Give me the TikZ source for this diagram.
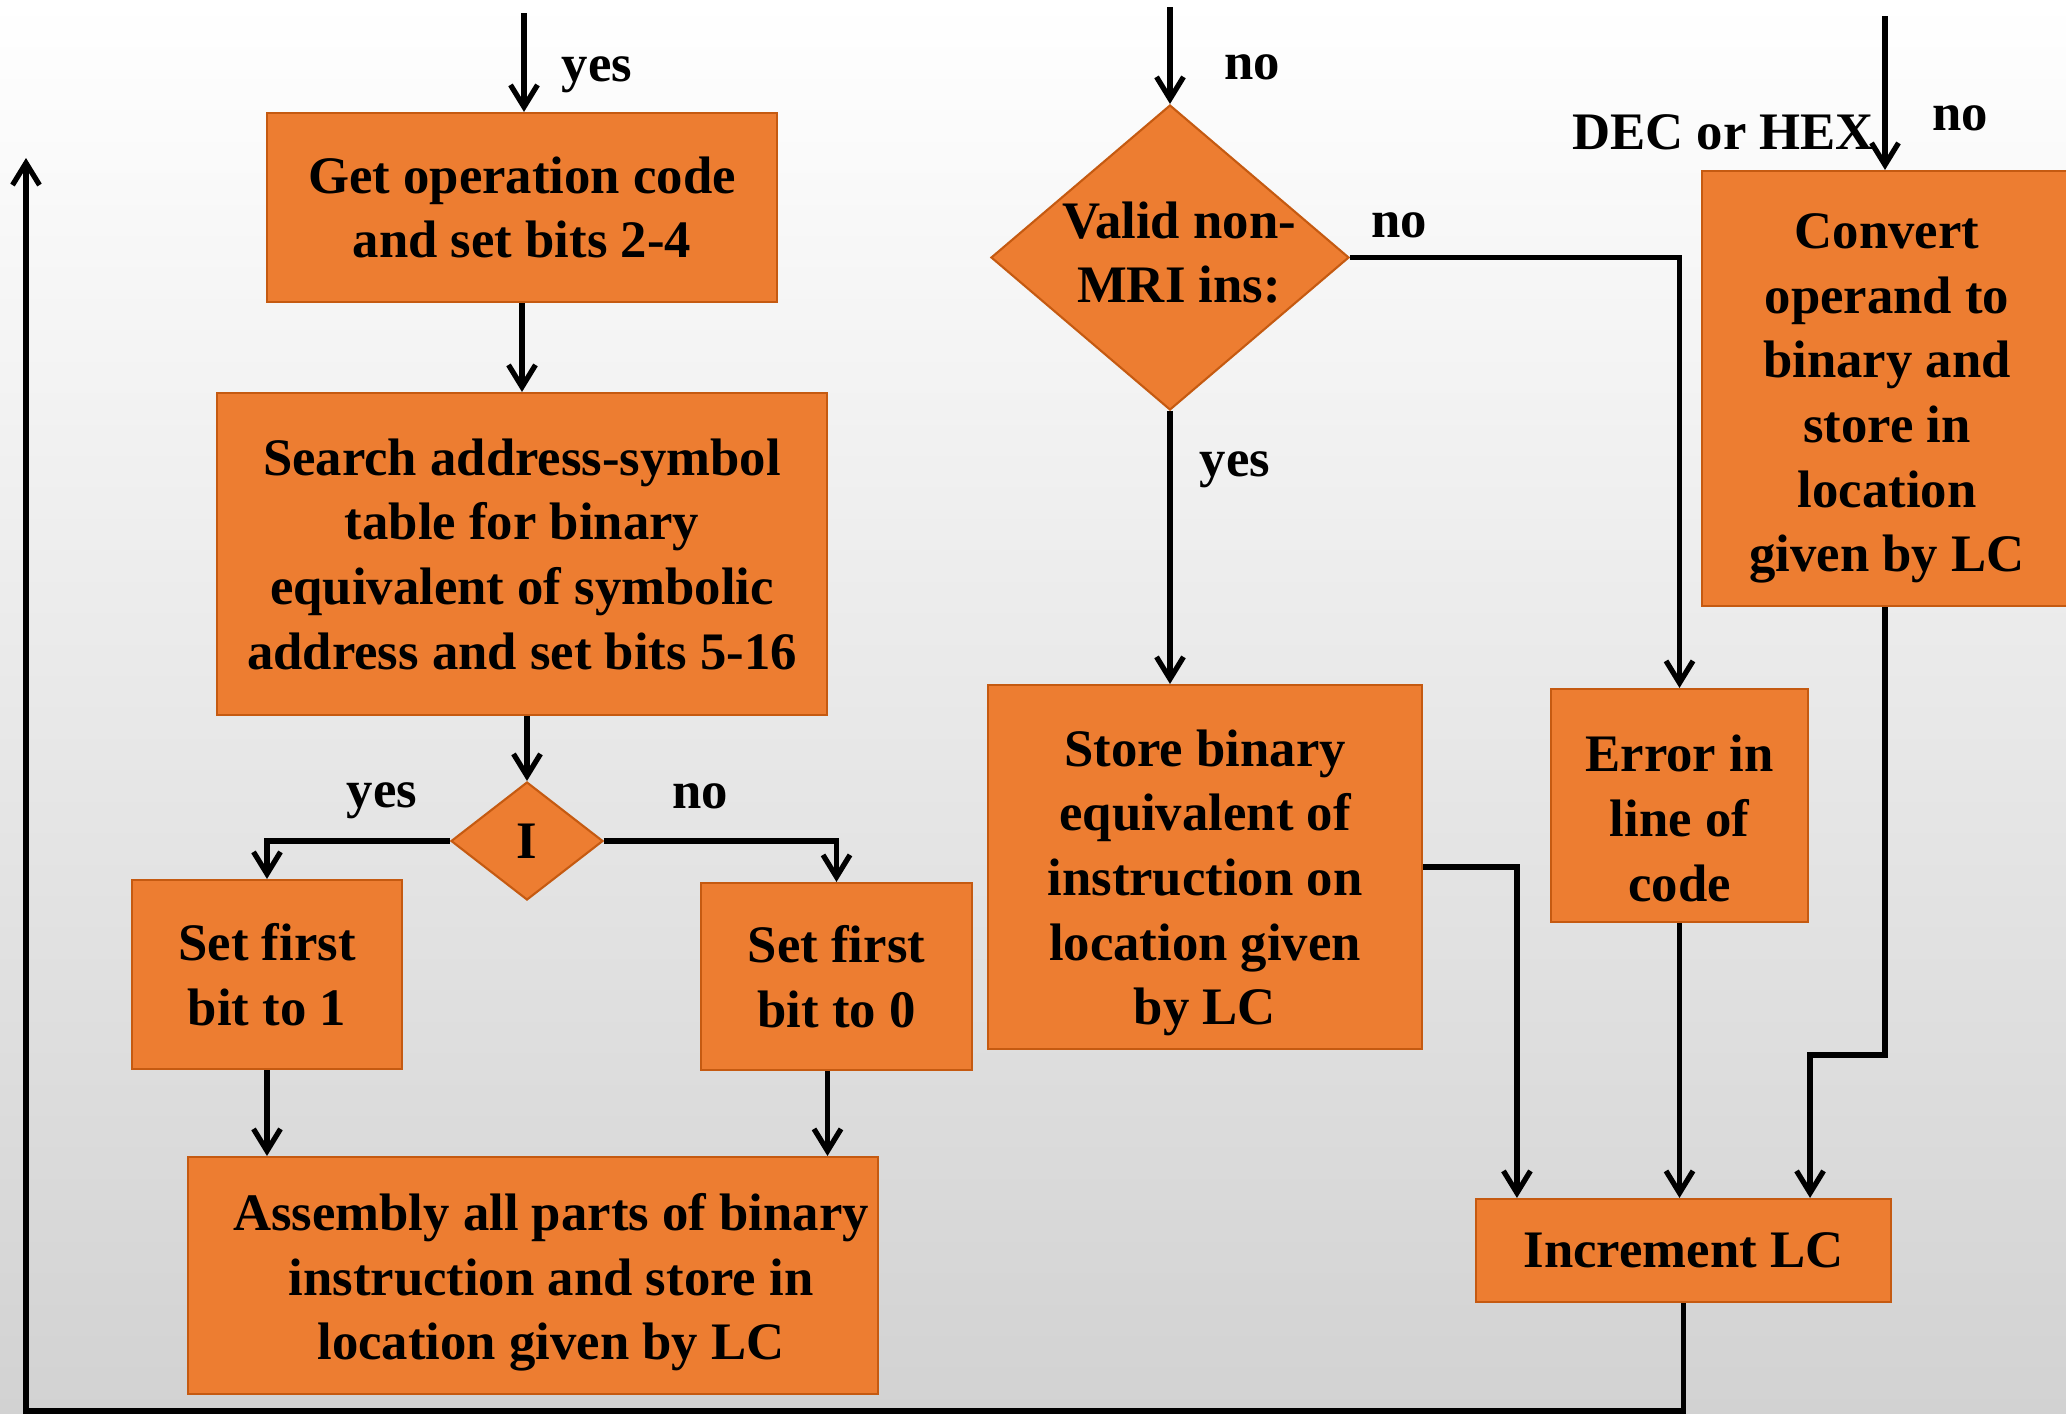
\documentclass[tikz,border=0pt]{standalone}
\usepackage{fontspec}
\setmainfont{Liberation Serif}
\usetikzlibrary{shapes.geometric,arrows.meta}
\definecolor{boxfill}{RGB}{237,125,49}
\definecolor{boxline}{RGB}{197,90,17}
\definecolor{bgmid}{RGB}{244,244,244}
\definecolor{bgbot}{RGB}{210,210,210}
\begin{document}
\begin{tikzpicture}[font=\fontsize{15}{18.4}\selectfont\bfseries,
  box/.style={draw=boxline,line width=0.6pt,fill=boxfill,align=center,inner sep=0pt},
  decision/.style={diamond,draw=boxline,line width=0.6pt,fill=boxfill,align=center,inner sep=0pt},
  inside/.style={align=center,inner sep=0pt},
  wire/.style={line width=1.5pt},
  arr/.style={wire,-{Straight Barb[length=2.2mm,width=2.7mm]}}]
\useasboundingbox (0,0) rectangle (20.66,-14.14);
\shade[top color=white,middle color=bgmid,bottom color=bgbot] (0,0) rectangle (20.66,-14.14);
%
\node[box,minimum width=5.10cm,minimum height=1.89cm] (getop) at (5.22,-2.075)
  {Get operation code\\and set bits 2-4};
\node[box,minimum width=6.10cm,minimum height=3.22cm] (search) at (5.22,-5.54)
  {Search address-symbol\\table for binary\\equivalent of symbolic\\address and set bits 5-16};
\node[decision,minimum width=1.52cm,minimum height=1.18cm] (idec) at (5.27,-8.41) {I};
\node[box,minimum width=2.70cm,minimum height=1.89cm] (set1) at (2.67,-9.745)
  {Set first\\bit to 1};
\node[box,minimum width=2.71cm,minimum height=1.87cm] (set0) at (8.365,-9.765)
  {Set first\\bit to 0};
\node[box,minimum width=6.90cm,minimum height=2.37cm,
  label={[inside,xshift=0.18cm,yshift=-0.07cm]center:Assembly all parts of binary\\instruction and store in\\location given by LC}]
  (assembly) at (5.33,-12.755) {};
\node[decision,minimum width=3.58cm,minimum height=3.05cm,
  label={[inside,xshift=0.09cm,yshift=0.05cm]center:Valid non-\\MRI ins:}]
  (valid) at (11.70,-2.575) {};
\node[box,minimum width=4.34cm,minimum height=3.64cm,
  label={[inside,yshift=-0.16cm]center:Store binary\\equivalent of\\instruction on\\location given\\by LC}]
  (store) at (12.05,-8.67) {};
\node[box,minimum width=2.57cm,minimum height=2.33cm,
  label={[inside,yshift=-0.13cm]center:Error in\\line of\\code}]
  (error) at (16.795,-8.055) {};
\node[box,minimum width=3.70cm,minimum height=4.35cm,
  label={[inside,yshift=-0.10cm]center:Convert\\operand to\\binary and\\store in\\location\\given by LC}]
  (convert) at (18.87,-3.885) {};
\node[box,minimum width=4.15cm,minimum height=1.03cm] (incr) at (16.835,-12.505)
  {Increment LC};
%
\node (yesA) at (5.97,-0.75) {yes};
\node (noA) at (12.52,-0.67) {no};
\node (dechex) at (17.23,-1.32) {DEC or HEX};
\node (noB) at (19.60,-1.18) {no};
\node (noC) at (13.99,-2.25) {no};
\node (yesB) at (12.35,-4.70) {yes};
\node (yesC) at (3.82,-8.01) {yes};
\node (noD) at (7.00,-7.96) {no};
%
\coordinate (inA) at (5.24,-0.13);
\coordinate (inB) at (11.70,-0.07);
\coordinate (inC) at (18.85,-0.16);
\coordinate (loopturn) at (0.26,-14.11);
\coordinate (loopend) at (0.26,-1.58);
%
\draw[arr] (inA) -- (inA |- getop.north);
\draw[arr] (getop.south) -- (search.north);
\draw[arr] (search.south -| idec) -- (idec.north);
\draw[arr] (idec.west) -| (set1.north);
\draw[arr] (idec.east) -| (set0.north);
\draw[arr] (set1.south) -- (set1.south |- assembly.north);
\draw[arr] ([xshift=-0.09cm]set0.south) -- ([xshift=-0.09cm]set0.south |- assembly.north);
\draw[arr] (inB) -- (valid.north);
\draw[arr] (valid.east) -| (error.north);
\draw[arr] (valid.south) -- (valid.south |- store.north);
\draw[arr] (inC) -- (inC |- convert.north);
\draw[arr] (store.east) -| ([xshift=0.42cm]incr.north west);
\draw[arr] (error.south) -- (error.south |- incr.north);
\draw[arr] (convert.south -| inC) -- ++(0,-4.48) -| ([xshift=-0.82cm]incr.north east);
\draw[arr] (incr.south) |- (loopturn) -- (loopend);
\end{tikzpicture}
\end{document}
